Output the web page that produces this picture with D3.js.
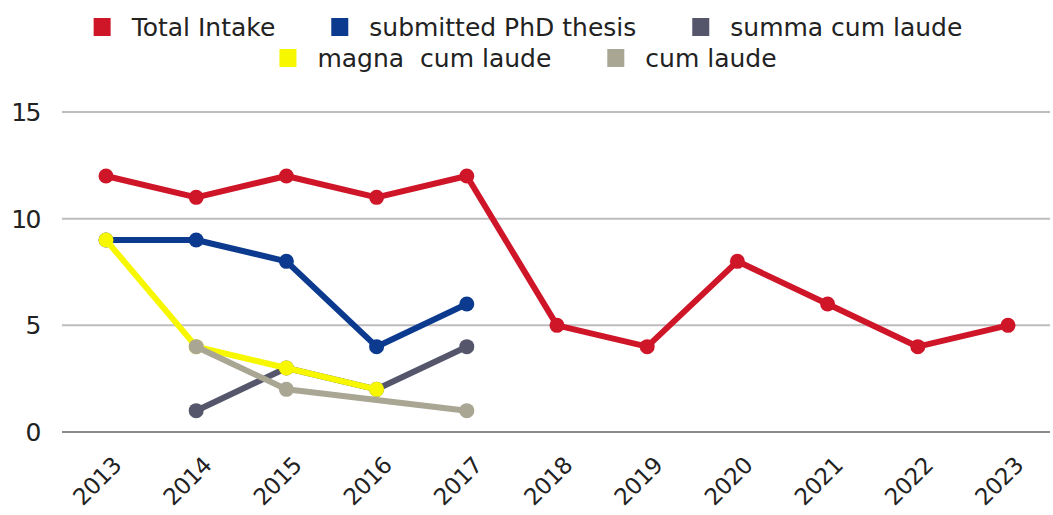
<!DOCTYPE html>
<html>
<head>
<meta charset="utf-8">
<script src="https://cdn.jsdelivr.net/npm/d3@7"></script>
<style>
  body { margin: 0; background: #fff; }
  svg text { font-family: "DejaVu Sans", sans-serif; fill: #222; white-space: pre; }
</style>
</head>
<body>
<div id="chart"></div>
<script>
    var width = 1053,
        height = 515;

    // data
    var years = ["2013", "2014", "2015", "2016", "2017", "2018", "2019", "2020", "2021", "2022", "2023"];
    var totalIntake = [12, 11, 12, 11, 12, 5, 4, 8, 6, 4, 5];
    var submittedPhd = [9, 9, 8, 4, 6, null, null, null, null, null, null];
    var summaCumLaude = [null, 1, 3, 2, 4, null, null, null, null, null, null];
    var magnaCumLaude = [9, 4, 3, 2, null, null, null, null, null, null, null];
    var cumLaude = [null, 4, 2, null, 1, null, null, null, null, null, null];
    var yTicks = [0, 5, 10, 15];

    var series = [
      { name: "Total Intake", values: totalIntake, color: "#cf1629" },
      { name: "submitted PhD thesis", values: submittedPhd, color: "#0b3a8f" },
      { name: "summa cum laude", values: summaCumLaude, color: "#55566b" },
      { name: "magna  cum laude", values: magnaCumLaude, color: "#f7f700" },
      { name: "cum laude", values: cumLaude, color: "#a9a694" }
    ];

    var margin = { top: 112, right: 0, bottom: 83, left: 62 };

    var x = d3.scalePoint()
      .domain(years)
      .range([106, 1008]);

    var y = d3.scaleLinear()
      .domain([0, 15])
      .range([height - margin.bottom, margin.top]);

    var svg = d3.select("#chart").append("svg")
      .attr("width", width)
      .attr("height", height);

    // gridlines
    svg.append("g")
      .selectAll("line")
      .data(yTicks)
      .join("line")
        .attr("x1", margin.left)
        .attr("x2", width - 3)
        .attr("y1", function(d) { return y(d); })
        .attr("y2", function(d) { return y(d); })
        .attr("stroke", function(d) { return d === 0 ? "#8a8a8a" : "#bdbdbd"; })
        .attr("stroke-width", 2);

    // y labels
    svg.append("g")
      .selectAll("text")
      .data(yTicks)
      .join("text")
        .attr("x", 40)
        .attr("y", function(d) { return y(d); })
        .attr("dy", "0.36em")
        .attr("text-anchor", "end")
        .style("font-size", "25px")
        .style("letter-spacing", "-1.5px")
        .text(function(d) { return d; });

    // x labels, rotated
    svg.append("g")
      .selectAll("text")
      .data(years)
      .join("text")
        .attr("transform", function(d) { return "translate(" + (x(d) + 5) + "," + 455 + ") rotate(-45)"; })
        .attr("text-anchor", "end")
        .attr("dy", "0.72em")
        .style("font-size", "23px")
        .style("letter-spacing", "-0.5px")
        .text(function(d) { return d; });

    var line = d3.line()
      .x(function(d) { return x(d.year); })
      .y(function(d) { return y(d.value); });

    series.forEach(function(s) {
      var pts = years.map(function(yr, i) { return { year: yr, value: s.values[i] }; })
        .filter(function(d) { return d.value != null; });

      var g = svg.append("g");
      g.append("path")
        .datum(pts)
        .attr("fill", "none")
        .attr("stroke", s.color)
        .attr("stroke-width", 6)
        .attr("stroke-linejoin", "round")
        .attr("d", line);
      g.selectAll("circle")
        .data(pts)
        .join("circle")
          .attr("cx", function(d) { return x(d.year); })
          .attr("cy", function(d) { return y(d.value); })
          .attr("r", 7.5)
          .attr("fill", s.color);
    });

    // legend, two centered rows
    var rows = [series.slice(0, 3), series.slice(3)];
    var rowY = [27, 58];
    var legendCenter = 528;

    rows.forEach(function(items, ri) {
      var lg = svg.append("g");
      var cursor = 0;
      items.forEach(function(s, i) {
        var item = lg.append("g").attr("transform", "translate(" + cursor + ",0)");
        item.append("rect")
          .attr("x", 0)
          .attr("y", rowY[ri] - 9)
          .attr("width", 17)
          .attr("height", 18)
          .attr("fill", s.color);
        var t = item.append("text")
          .attr("x", 38)
          .attr("y", rowY[ri])
          .attr("dy", "0.36em")
          .style("font-size", "25px")
          .text(s.name);
        cursor += 38 + t.node().getComputedTextLength() + 56;
      });
      var total = cursor - 56;
      lg.attr("transform", "translate(" + (legendCenter - total / 2) + ",0)");
    });
</script>
</body>
</html>
